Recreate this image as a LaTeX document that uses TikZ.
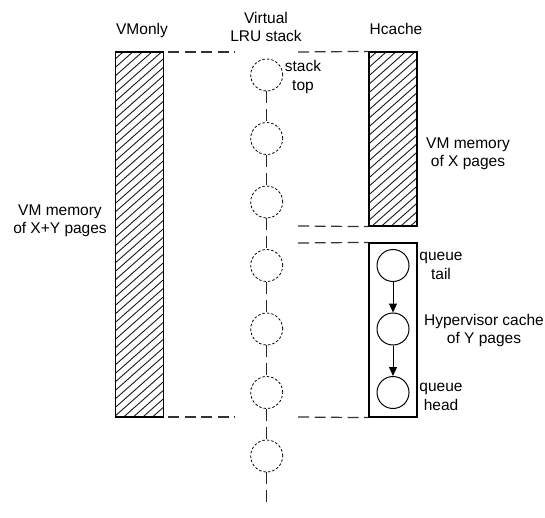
\documentclass[tikz,border=0pt]{standalone}
\usepackage{fontspec}
\setmainfont{Liberation Sans}
\usetikzlibrary{arrows.meta,calc}
\begin{document}
\begin{tikzpicture}[x=1pt,y=-1pt,
  font=\fontsize{15.5pt}{18.5pt}\selectfont,
  hatch/.style={path picture={
    \foreach \k in {0,8.5,...,440}
      \draw[line width=0.9pt, draw=black!90] ($(path picture bounding box.north west)+(-2,\k)$) -- ++(70,-62);}},
  memrect/.style={draw, line width=1.2pt, inner sep=0, minimum width=48pt},
  stackcirc/.style={circle, draw, dash pattern=on 2.5pt off 2pt, line width=0.8pt, minimum size=32pt, inner sep=0},
  qcirc/.style={circle, draw, line width=1pt, minimum size=32pt, inner sep=0},
  guide/.style={dash pattern=on 11pt off 5.5pt, line width=1.2pt, draw=black!80},
  vguide/.style={dash pattern=on 12pt off 6pt, dash phase=18pt, line width=1.2pt, draw=black!85},
  lbl/.style={align=center, inner sep=0},
  qarrow/.style={line width=1pt, -{Triangle[length=9pt,width=8pt]}}
]
\useasboundingbox (0,0) rectangle (545,518);

% memory rectangles
\node[memrect, hatch, minimum height=365pt] (vm) at (139.5,234.5) {};
\node[memrect, hatch, minimum height=174pt] (hc) at (393,139) {};
\node[memrect, minimum height=174pt] (qb) at (393,330) {};

% virtual LRU stack
\foreach \i/\y in {1/75,2/138.5,3/202,4/265.5,5/329,6/392.5,7/456}
  \node[stackcirc] (s\i) at (266.7,\y) {};
\coordinate (send) at (266.7,505);
\foreach \a/\b in {s1/s2,s2/s3,s3/s4,s4/s5,s5/s6,s6/s7}
  \draw[vguide] (\a) -- (\b);
\draw[vguide] (s7) -- (send);

% queue circles
\node[qcirc] (q1) at (393,265.5) {};
\node[qcirc] (q2) at (393,329) {};
\node[qcirc] (q3) at (393,392.5) {};
\draw[qarrow] (q1) -- (q2);
\draw[qarrow] (q2) -- (q3);

% dashed guide lines
\coordinate (a1) at (168,52);  \coordinate (a2) at (235,52);
\coordinate (a3) at (298,52);
\coordinate (b3) at (298,226);
\coordinate (c3) at (298,243);
\coordinate (d1) at (168,417); \coordinate (d2) at (235,417);
\coordinate (d3) at (298,417);
\draw[guide] (a1) -- (a2);
\draw[guide] (a3) -- (hc.north west);
\draw[guide] (b3) -- (hc.south west);
\draw[guide] (c3) -- (qb.north west);
\draw[guide] (d1) -- (d2);
\draw[guide] (d3) -- (qb.south west);

% labels
\node[lbl, anchor=base] (tvm) at (142,35) {VMonly};
\node[lbl, anchor=base] (thc) at (396,35) {Hcache};
\node[lbl] (tlru) at (266,27) {Virtual\\LRU stack};
\node[lbl] (ttop) at (303,77) {stack\\top};
\node[lbl] (txy) at (60,221) {VM memory\\of X+Y pages};
\node[lbl] (tx) at (468,154) {VM memory\\of X pages};
\node[lbl] (ttail) at (441,266) {queue\\tail};
\node[lbl] (thyp) at (484,330.5) {Hypervisor cache\\of Y pages};
\node[lbl] (thead) at (441,397) {queue\\head};
\end{tikzpicture}
\end{document}
